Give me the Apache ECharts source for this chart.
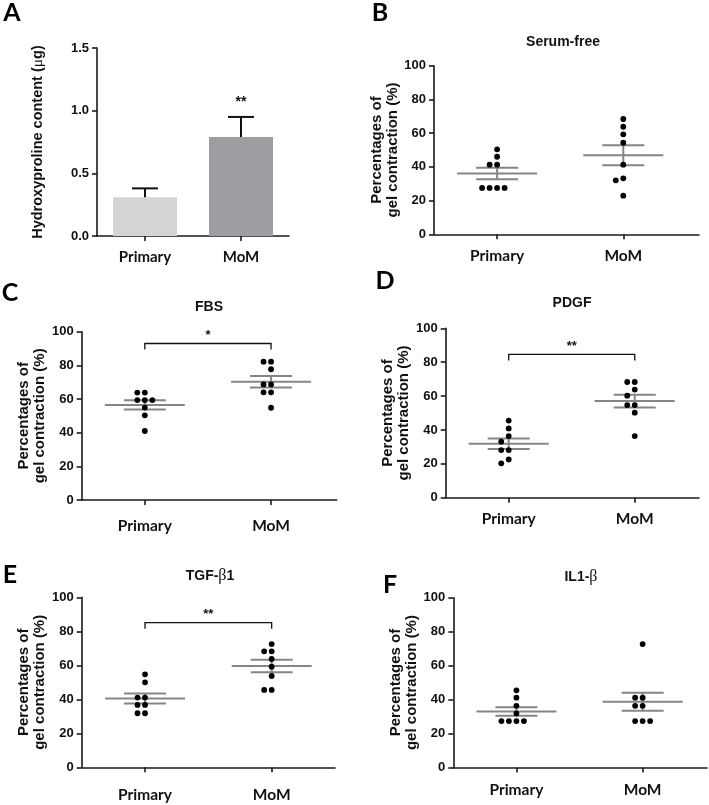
<!DOCTYPE html>
<html><head><meta charset="utf-8">
<script src="https://cdn.jsdelivr.net/npm/echarts@6/dist/echarts.min.js"></script>
<style>html,body{margin:0;padding:0;background:#fff}#c{width:709px;height:805px}</style>
</head><body><div id="c"></div>
<script>
// ---------- data ----------
const groups = ['Primary', 'MoM'];
// Panel A: hydroxyproline content (µg), mean and SEM
const hypMean = [0.31, 0.79];
const hypSem = [0.07, 0.16];
const hypTicks = [0, 0.5, 1.0, 1.5];
// Panels B-F: percentages of gel contraction (%)
const serumFreePrimary = [50.4, 46.0, 41.3, 41.3, 27.5, 27.5, 27.5, 27.5];
const serumFreeMoM     = [68.4, 63.8, 59.3, 54.3, 41.3, 33.2, 32.0, 22.9];
const fbsPrimary       = [63.8, 63.8, 59.4, 59.4, 59.4, 54.9, 50.3, 41.0];
const fbsMoM           = [82.2, 82.2, 77.7, 68.7, 68.7, 64.0, 64.0, 54.8];
const pdgfPrimary      = [45.5, 40.9, 36.4, 33.1, 28.1, 28.1, 22.6, 20.3];
const pdgfMoM          = [68.3, 68.3, 63.8, 60.2, 54.7, 54.7, 50.2, 36.4];
const tgfPrimary       = [54.7, 50.0, 41.0, 41.0, 36.7, 36.7, 31.8, 31.8];
const tgfMoM           = [72.5, 68.2, 68.2, 63.7, 59.2, 53.7, 45.5, 45.5];
const il1Primary       = [45.4, 41.1, 36.3, 31.8, 27.3, 27.3, 27.3, 27.3];
const il1MoM           = [72.7, 41.1, 41.1, 36.3, 36.3, 27.3, 27.3, 27.3];
const pctTicks = [0, 20, 40, 60, 80, 100];

// ---------- helpers ----------
const mean = a => a.reduce((s, v) => s + v, 0) / a.length;
const sem = a => { const m = mean(a); return Math.sqrt(a.reduce((s, v) => s + (v - m) * (v - m), 0) / (a.length - 1) / a.length); };
function swarm(vals, thr) {
  const order = vals.map((v, i) => i).sort((a, b) => vals[b] - vals[a]);
  const placed = [], slots = new Array(vals.length);
  const cand = [0, -1, 1, -2, 2, -3, 3];
  order.forEach(i => {
    for (const s of cand) {
      if (!placed.some(p => p.s === s && Math.abs(p.v - vals[i]) < thr)) { slots[i] = s; placed.push({ s, v: vals[i] }); break; }
    }
  });
  return slots;
}

const AX = '#1a1a1a';
const NUM_FONT = 'Liberation Sans';
const CAT_FONT = 'Lato';
const MEAN_COLOR = '#858585';

const panels = [
  { title: '{a|Serum-free}', tx: 563, ty: 42, grid: { left: 434, top: 65.7, width: 265, height: 168.6 }, xMax: 1.6, data: [serumFreePrimary, serumFreeMoM], lm: 14, letter: 'B', lx: 380, ly: 13 },
  { title: '{a|FBS}', tx: 209, ty: 307, grid: { left: 81.7, top: 331.7, width: 255, height: 168.3 }, xMax: 1.52, data: [fbsPrimary, fbsMoM], lm: 18, sig: { level: 93, text: '*' }, letter: 'C', lx: 10, ly: 293 },
  { title: '{a|PDGF}', tx: 572, ty: 303, grid: { left: 445.7, top: 328.3, width: 253.3, height: 169.4 }, xMax: 1.51, data: [pdgfPrimary, pdgfMoM], lm: 13, sig: { level: 84.6, text: '**' }, letter: 'D', lx: 385, ly: 281 },
  { title: '{a|TGF-}{b|β}{a|1}', tx: 210, ty: 576, grid: { left: 81.7, top: 597.3, width: 253.3, height: 170 }, xMax: 1.5, data: [tgfPrimary, tgfMoM], lm: 20, sig: { level: 85.1, text: '**' }, letter: 'E', lx: 10, ly: 575 },
  { title: '{a|IL1-}{b|β}', tx: 581, ty: 577, grid: { left: 453.3, top: 597.7, width: 253.7, height: 169.7 }, xMax: 1.51, data: [il1Primary, il1MoM], lm: 15, letter: 'F', lx: 390, ly: 585 }
];

const grids = [], xAxes = [], yAxes = [], series = [];
const graphics = [];

function yAxisBase(idx) {
  return {
    gridIndex: idx, type: 'value',
    axisLine: { show: true, onZero: false, lineStyle: { color: AX, width: 1.6 } },
    axisTick: { show: true, length: 5, lineStyle: { color: AX, width: 1.6 } },
    axisLabel: { color: '#111', fontFamily: NUM_FONT, fontWeight: 'bold', fontSize: 13, margin: 8 },
    splitLine: { show: false },
    nameLocation: 'middle', nameRotate: 90,
    nameTextStyle: { color: '#111', fontFamily: NUM_FONT, fontWeight: 'bold', fontSize: 15, lineHeight: 16 }
  };
}

// ---------- Panel A ----------
grids.push({ left: 97, top: 48, width: 192, height: 188, outerBoundsMode: 'none' });
xAxes.push({
  gridIndex: 0, type: 'category', data: groups, boundaryGap: true,
  axisLine: { show: true, onZero: false, lineStyle: { color: AX, width: 1.6 } },
  axisTick: { show: true, alignWithLabel: true, length: 5, lineStyle: { color: AX, width: 1.6 } },
  axisLabel: { color: '#111', fontFamily: CAT_FONT, fontWeight: 'bold', fontSize: 15, margin: 14 }
});
yAxes.push(Object.assign(yAxisBase(0), {
  min: hypTicks[0], max: hypTicks[hypTicks.length - 1], interval: 0.5,
  name: 'Hydroxyproline content ({m|μ}g)', nameGap: 51,
  nameTextStyle: { color: '#111', fontFamily: NUM_FONT, fontWeight: 'bold', fontSize: 14.5, rich: { m: { fontFamily: 'Liberation Serif', fontSize: 15.5, fontWeight: 'normal', color: '#111' } } }
}));
yAxes[0].axisLabel.formatter = v => v.toFixed(1);
series.push({
  type: 'bar', xAxisIndex: 0, yAxisIndex: 0, barWidth: 64,
  data: hypMean.map((v, i) => ({ value: v, itemStyle: { color: i === 0 ? '#d5d5d5' : '#9d9da2' } }))
});
series.push({
  type: 'custom', xAxisIndex: 0, yAxisIndex: 0, z: 5,
  data: hypMean.map((v, i) => [i, v, hypSem[i], i === 1 ? '**' : '']),
  renderItem: (params, api) => {
    const x = api.value(0), m = api.value(1), s = api.value(2);
    const b = api.coord([x, m]), t = api.coord([x, m + s]);
    const ch = [
      { type: 'line', shape: { x1: b[0], y1: b[1], x2: t[0], y2: t[1] }, style: { stroke: '#111', lineWidth: 2 } },
      { type: 'line', shape: { x1: t[0] - 13, y1: t[1], x2: t[0] + 13, y2: t[1] }, style: { stroke: '#111', lineWidth: 2 } }
    ];
    const txt = api.value(3);
    if (txt) ch.push({ type: 'text', x: t[0], y: t[1] - 15, style: { text: txt, align: 'center', verticalAlign: 'middle', font: 'bold 14px "Liberation Sans"', fill: '#111' } });
    return { type: 'group', children: ch };
  }
});
graphics.push({ type: 'text', x: 12, y: 13, style: { text: 'A', align: 'center', verticalAlign: 'middle', font: 'bold 25px Lato', fill: '#000' } });

// ---------- Panels B-F ----------
panels.forEach((p, k) => {
  const gi = k + 1;
  grids.push(Object.assign({ outerBoundsMode: 'none' }, p.grid));
  xAxes.push({
    gridIndex: gi, type: 'value', min: -0.5, max: p.xMax,
    axisLine: { show: true, onZero: false, lineStyle: { color: AX, width: 1.6 } },
    axisTick: { show: true, customValues: [0, 1], length: 5, lineStyle: { color: AX, width: 1.6 } },
    axisLabel: { show: true, customValues: [0, 1], formatter: v => groups[Math.round(v)], color: '#111', fontFamily: CAT_FONT, fontWeight: 'bold', fontSize: 15.5, margin: p.lm },
    splitLine: { show: false }
  });
  yAxes.push(Object.assign(yAxisBase(gi), {
    min: pctTicks[0], max: pctTicks[pctTicks.length - 1], interval: 20,
    name: 'Percentages of\ngel contraction (%)', nameGap: 27
  }));
  // mean ± SEM
  series.push({
    type: 'custom', xAxisIndex: gi, yAxisIndex: gi, z: 3, encode: { x: 0, y: 1 },
    data: p.data.map((vals, g) => [g, mean(vals), sem(vals)]),
    renderItem: (params, api) => {
      const x = api.value(0), m = api.value(1), s = api.value(2);
      const c = api.coord([x, m]), hi = api.coord([x, m + s]), lo = api.coord([x, m - s]);
      const st = { stroke: MEAN_COLOR, lineWidth: 2 };
      return { type: 'group', children: [
        { type: 'line', shape: { x1: c[0] - 40, y1: c[1], x2: c[0] + 40, y2: c[1] }, style: st },
        { type: 'line', shape: { x1: c[0] - 21, y1: hi[1], x2: c[0] + 21, y2: hi[1] }, style: st },
        { type: 'line', shape: { x1: c[0] - 21, y1: lo[1], x2: c[0] + 21, y2: lo[1] }, style: st },
        { type: 'line', shape: { x1: c[0], y1: hi[1], x2: c[0], y2: lo[1] }, style: st }
      ] };
    }
  });
  // dots (beeswarm)
  const pts = [];
  p.data.forEach((vals, g) => {
    const sl = swarm(vals, 4.2);
    vals.forEach((v, i) => pts.push([g, v, sl[i]]));
  });
  series.push({
    type: 'custom', xAxisIndex: gi, yAxisIndex: gi, z: 6, data: pts, encode: { x: 0, y: 1 },
    renderItem: (params, api) => {
      const c = api.coord([api.value(0), api.value(1)]);
      return { type: 'circle', shape: { cx: c[0] + api.value(2) * 7.5, cy: c[1], r: 2.9 }, style: { fill: '#000' } };
    }
  });
  // significance bracket
  if (p.sig) {
    series.push({
      type: 'custom', xAxisIndex: gi, yAxisIndex: gi, z: 5,
      data: [[0, 1, p.sig.level, p.sig.text]],
      renderItem: (params, api) => {
        const a = api.coord([api.value(0), api.value(2)]), b = api.coord([api.value(1), api.value(2)]);
        return { type: 'group', children: [
          { type: 'polyline', shape: { points: [[a[0], a[1] + 6], [a[0], a[1]], [b[0], b[1]], [b[0], b[1] + 6]] }, style: { stroke: '#111', lineWidth: 1.3, fill: null } },
          { type: 'text', x: (a[0] + b[0]) / 2, y: a[1] - 8, style: { text: api.value(3), align: 'center', verticalAlign: 'middle', font: 'bold 13px "Liberation Sans"', fill: '#111' } }
        ] };
      }
    });
  }
  graphics.push({ type: 'text', x: p.tx, y: p.ty, style: { text: p.title, align: 'center', verticalAlign: 'middle',
    rich: { a: { fontFamily: NUM_FONT, fontWeight: 'bold', fontSize: 14, fill: '#111', color: '#111' }, b: { fontFamily: 'Liberation Serif', fontSize: 16, fill: '#111', color: '#111' } } } });
  graphics.push({ type: 'text', x: p.lx, y: p.ly, style: { text: p.letter, align: 'center', verticalAlign: 'middle', font: 'bold 25px Lato', fill: '#000' } });
});

const chart = echarts.init(document.getElementById('c'), null, { renderer: 'canvas' });
chart.setOption({
  backgroundColor: '#fff',
  animation: false,
  grid: grids, xAxis: xAxes, yAxis: yAxes, series,
  graphic: graphics
});
</script></body></html>
